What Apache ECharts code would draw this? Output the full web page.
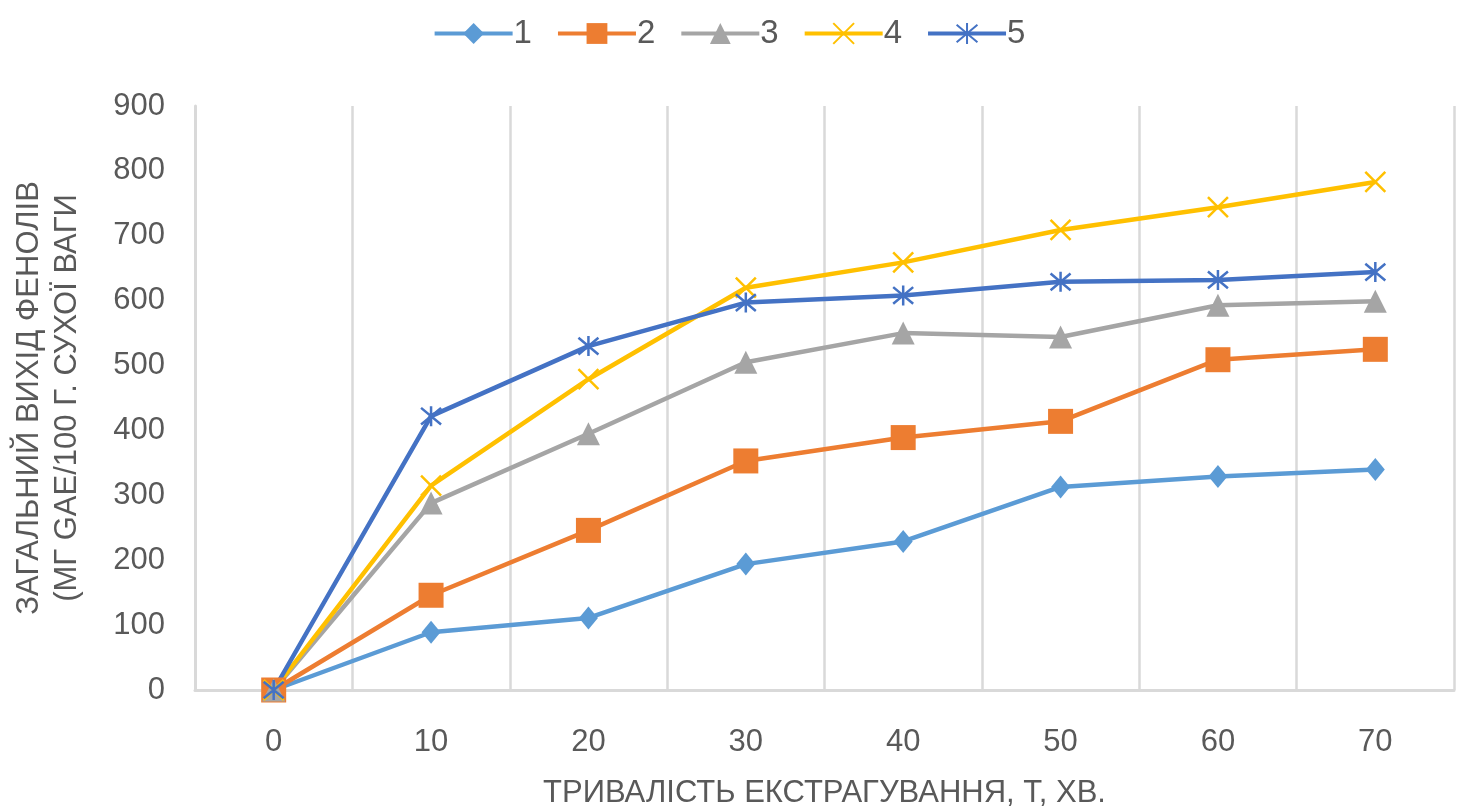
<!DOCTYPE html>
<html>
<head>
<meta charset="utf-8">
<script src="https://cdn.jsdelivr.net/npm/echarts@6/dist/echarts.min.js"></script>
<style>
  html, body { margin: 0; padding: 0; background: #fff; }
  #chart { width: 1458px; height: 811px; }
</style>
</head>
<body>
<div id="chart"></div>
<script>
// Extraction time, min
const categories = ['0', '10', '20', '30', '40', '50', '60', '70'];

// Total phenol yield, mg GAE / 100 g dry weight
const series1 = [0, 89, 111, 194, 229, 313, 329, 340];
const series2 = [0, 146, 246, 353, 389, 414, 509, 525];
const series3 = [0, 288, 395, 505, 550, 544, 593, 599];
const series4 = [0, 315, 479, 620, 659, 709, 744, 783];
const series5 = [0, 422, 530, 597, 608, 629, 632, 644];

const seriesNames = ['1', '2', '3', '4', '5'];
const yTicks = [0, 100, 200, 300, 400, 500, 600, 700, 800, 900];

const FONT = '"Liberation Sans", sans-serif';
const TEXT = '#595959';
const GRID = '#d9d9d9';

const crossPath = 'path://M0,0L10,10M10,0L0,10';
const starPath = 'path://M0,0L10,10M10,0L0,10M5,-1L5,11';

function lineSeries(name, data, color, symbol, size, stroked) {
  return {
    name: name,
    type: 'line',
    data: data,
    symbol: symbol,
    symbolSize: size,
    showSymbol: true,
    lineStyle: { color: color, width: 4.5 },
    itemStyle: stroked
      ? { color: color, borderColor: color, borderWidth: 2.5 }
      : { color: color, borderWidth: 0 },
    emphasis: { disabled: true },
    z: 2
  };
}

const chart = echarts.init(document.getElementById('chart'), null, { renderer: 'canvas' });

chart.setOption({
  animation: false,
  backgroundColor: '#ffffff',
  textStyle: { fontFamily: FONT },
  legend: {
    top: 12,
    left: 'center',
    itemWidth: 78,
    itemHeight: 26,
    itemGap: 24,
    data: seriesNames,
    lineStyle: { width: 4 },
    textStyle: { color: TEXT, fontSize: 33, fontFamily: FONT, padding: [0, 0, 0, -4] }
  },
  grid: { left: 195, right: 4, top: 106, bottom: 121, containLabel: false, outerBoundsMode: 'none' },
  xAxis: {
    type: 'category',
    data: categories,
    boundaryGap: true,
    name: 'ТРИВАЛІСТЬ ЕКСТРАГУВАННЯ, Т, ХВ.',
    nameLocation: 'middle',
    nameGap: 88,
    nameTextStyle: { color: TEXT, fontSize: 31, fontFamily: FONT },
    axisLine: { show: true, lineStyle: { color: GRID, width: 3 } },
    axisTick: { show: false },
    axisLabel: { color: TEXT, fontSize: 31, margin: 37, fontFamily: FONT },
    splitLine: { show: true, lineStyle: { color: GRID, width: 2.5 } }
  },
  yAxis: {
    type: 'value',
    min: yTicks[0],
    max: yTicks[yTicks.length - 1],
    interval: 100,
    name: 'ЗАГАЛЬНИЙ ВИХІД ФЕНОЛІВ\n(МГ GAE/100 Г. СУХОЇ ВАГИ',
    nameLocation: 'middle',
    nameRotate: 90,
    nameGap: 109,
    nameTextStyle: { color: TEXT, fontSize: 31, lineHeight: 38, fontFamily: FONT },
    axisLine: { show: true, lineStyle: { color: GRID, width: 3 } },
    axisTick: { show: false },
    axisLabel: { color: TEXT, fontSize: 31, margin: 30, fontFamily: FONT },
    splitLine: { show: false }
  },
  series: [
    lineSeries(seriesNames[0], series1, '#5B9BD5', 'diamond', [19, 23], false),
    lineSeries(seriesNames[1], series2, '#ED7D31', 'rect', 25, false),
    lineSeries(seriesNames[2], series3, '#A5A5A5', 'triangle', 23, false),
    lineSeries(seriesNames[3], series4, '#FFC000', crossPath, 20, true),
    lineSeries(seriesNames[4], series5, '#4472C4', starPath, 20, true)
  ]
});
</script>
</body>
</html>
